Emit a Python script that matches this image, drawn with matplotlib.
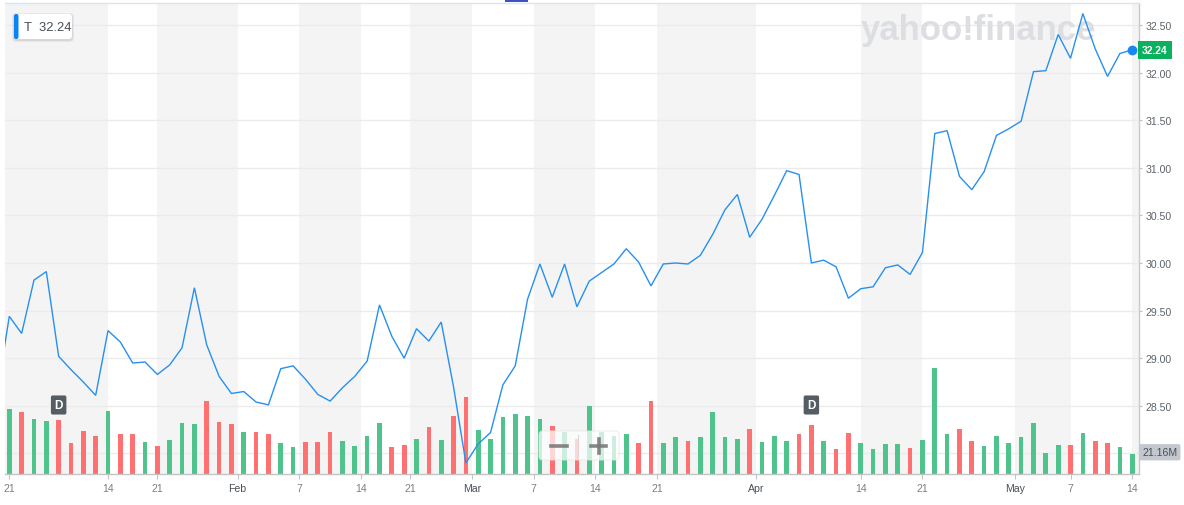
import numpy as np
import pandas as pd
import matplotlib
matplotlib.use('Agg')
import matplotlib.pyplot as plt
from matplotlib.patches import FancyBboxPatch, Rectangle
from matplotlib.lines import Line2D
from matplotlib.transforms import blended_transform_factory, IdentityTransform

plt.rcParams['font.family'] = ['Liberation Sans', 'DejaVu Sans']

# ---------------- data ----------------
ticker = 'T'
holidays = ['2021-01-01', '2021-01-18', '2021-02-15', '2021-04-02']
dates = pd.bdate_range('2020-12-31', '2021-05-14', freq='C', holidays=holidays)

close = [28.62,
         29.44, 29.26, 29.82, 29.91, 29.02, 28.88, 28.75, 28.61, 29.29, 29.17,
         28.95, 28.96, 28.83, 28.93, 29.11, 29.74, 29.14, 28.81, 28.63, 28.65,
         28.54, 28.51, 28.89, 28.92, 28.78, 28.62, 28.55, 28.69, 28.81, 28.97,
         29.56, 29.23, 29.00, 29.31, 29.18, 29.38, 28.70, 27.90, 28.10, 28.22,
         28.72, 28.92, 29.62, 29.99, 29.64, 29.99, 29.54, 29.81, 29.90, 29.99,
         30.15, 30.01, 29.76, 29.99, 30.00, 29.99, 30.08, 30.30, 30.56, 30.72,
         30.27, 30.46, 30.71, 30.97, 30.93, 30.00, 30.03, 29.96, 29.63, 29.73,
         29.75, 29.95, 29.98, 29.88, 30.11, 31.36, 31.39, 30.91, 30.77, 30.96,
         31.34, 31.41, 31.49, 32.01, 32.02, 32.40, 32.15, 32.62, 32.25, 31.96,
         32.20, 32.24]

volume_m = [67.4, 64.3, 57.0, 54.9, 55.9, 32.0, 44.5, 39.3, 65.3, 41.4,
            41.4, 33.0, 28.8, 35.1, 52.8, 51.8, 75.8, 53.9, 51.8, 43.4,
            43.4, 41.4, 32.0, 27.8, 33.0, 33.0, 43.4, 34.1, 28.8, 39.3,
            52.8, 27.8, 29.9, 36.1, 48.6, 35.1, 60.1, 79.9, 45.5, 36.1,
            59.1, 62.2, 60.1, 57.0, 49.7, 44.1, 36.5, 71.2, 43.8, 39.3,
            41.4, 32.0, 75.8, 32.0, 38.2, 34.1, 38.2, 64.3, 38.2, 36.1,
            46.6, 33.0, 39.3, 34.1, 41.4, 50.7, 34.1, 25.7, 42.4, 32.0,
            26.4, 30.9, 30.9, 27.6, 35.1, 110.5, 41.4, 46.6, 34.1, 28.8,
            39.3, 32.0, 38.2, 52.8, 21.5, 29.9, 29.9, 42.4, 34.1, 32.0,
            27.8, 21.16]

dividend_dates = ['2021-01-08', '2021-04-08']

tick_pos = [0, 8, 12, 18.5, 23.5, 28.5, 32.5, 37.5, 42.5, 47.5, 52.5,
            60.5, 69, 74, 81.5, 86, 91]
tick_labels = ['21', '14', '21', 'Feb', '7', '14', '21', 'Mar', '7', '14', '21',
               'Apr', '14', '21', 'May', '7', '14']
price_grid = [28.0, 28.5, 29.0, 29.5, 30.0, 30.5, 31.0, 31.5, 32.0, 32.5]
price_labels = [28.5, 29.0, 29.5, 30.0, 30.5, 31.0, 31.5, 32.0, 32.5]

# ---------------- derived ----------------
x_price = np.arange(len(close)) - 1          # Dec 31 at -1, Jan 4 at 0
x_vol = np.arange(len(volume_m))
close_arr = np.array(close)
up = np.diff(close_arr) >= 0
bar_colors = ['#4ec48c' if u else '#ff7070' for u in up]
date_index = {d.strftime('%Y-%m-%d'): i - 1 for i, d in enumerate(dates)}
div_idx = [date_index[d] for d in dividend_dates]

# ---------------- figure ----------------
W, H = 1184, 506
fig = plt.figure(figsize=(W / 100, H / 100), dpi=100, facecolor='white')


def fx(px):
    return px / W


def fy(py):
    return 1 - py / H


rect = [fx(5), fy(475), fx(1139) - fx(5), fy(4) - fy(475)]
ax_vol = fig.add_axes(rect)
ax_price = fig.add_axes(rect)
ax_vol.set_zorder(1)
ax_price.set_zorder(2)
ax_price.patch.set_visible(False)

xlim = (-0.348, 91.55)
ax_vol.set_xlim(*xlim)
ax_price.set_xlim(*xlim)
ax_price.set_ylim(27.784, 32.731)
ax_vol.set_ylim(0, 491)

# background bands
edges = [xlim[0]] + tick_pos[1:] + [xlim[1]]
for k in range(len(edges) - 1):
    if k % 2 == 0:
        ax_vol.axvspan(edges[k], edges[k + 1], color='#f4f4f4', lw=0, zorder=0)

# gridlines (price levels) drawn under bars
tg = blended_transform_factory(ax_vol.transAxes, ax_price.transData)
for g in price_grid:
    ax_vol.plot([0, 1], [g, g], transform=tg, color='#ebebeb', lw=1, zorder=1)

# watermark
ax_vol.text(861, H - 40, 'yahoo!finance', transform=IdentityTransform(),
            fontsize=25, fontweight='bold', color='#dcdee2', ha='left',
            va='baseline', zorder=1.5)

# volume bars
ax_vol.bar(x_vol, volume_m, width=0.38, color=bar_colors, lw=0, zorder=2)
for s in ax_vol.spines.values():
    s.set_visible(False)
ax_vol.set_xticks([])
ax_vol.set_yticks([])

# price line
ax_price.plot(x_price, close_arr, color='#2790ef', lw=1.0, zorder=3,
              solid_joinstyle='miter')
ax_price.plot([x_price[-1]], [close_arr[-1]], 'o', color='#1a86f0', ms=6,
              zorder=4, clip_on=False)

# axes styling
ax_price.spines['left'].set_visible(False)
ax_price.spines['top'].set_color('#dfe3ea')
ax_price.spines['right'].set_color('#c9c9c9')
ax_price.spines['bottom'].set_color('#c4c4c4')
for s in ax_price.spines.values():
    s.set_linewidth(1)

ax_price.yaxis.tick_right()
ax_price.set_yticks(price_labels)
ax_price.set_yticklabels([f'{v:.2f}' for v in price_labels])
ax_price.tick_params(axis='y', length=2.5, width=0.8, color='#c0c0c0',
                     labelcolor='#5b636a', labelsize=7.6, pad=2)
ax_price.set_xticks(tick_pos)
ax_price.set_xticklabels(tick_labels)
ax_price.tick_params(axis='x', length=3.8, width=0.8, color='#c4c4c4',
                     labelcolor='#7a7f85', labelsize=7.6, pad=2.5)
for lab in ax_price.get_xticklabels():
    if lab.get_text().isalpha():
        lab.set_color('#4a5057')

# dividend markers
td = blended_transform_factory(ax_price.transData, ax_price.transAxes)
for d in div_idx:
    ax_price.text(d, 0.1465, 'D', transform=td, ha='center', va='center',
                  color='white', fontsize=8.5, fontweight='bold', zorder=5,
                  bbox=dict(boxstyle='round,pad=0.3,rounding_size=0.15',
                            fc='#555c64', ec='none'))

# last price tag
tp = blended_transform_factory(ax_price.transAxes, ax_price.transData)
ax_price.text(1.0028, close_arr[-1], f'{close_arr[-1]:.2f}', transform=tp,
              ha='left', va='center', color='white', fontsize=7.4,
              fontweight='bold', zorder=6, clip_on=False,
              bbox=dict(boxstyle='square,pad=0.38', fc='#0bb15f', ec='none'))

# last volume tag
tv = blended_transform_factory(ax_vol.transAxes, ax_vol.transData)
ax_price.text(1.0028, volume_m[-1] + 1.5, f'{volume_m[-1]:.2f}M',
              transform=blended_transform_factory(ax_price.transAxes, ax_vol.transData),
              ha='left', va='center', color='#4a5057', fontsize=7.6,
              zorder=6, clip_on=False,
              bbox=dict(boxstyle='round,pad=0.3,rounding_size=0.2',
                        fc='#c3c7ce', ec='none'))

# ---------------- overlays (pixel coords) ----------------
I = IdentityTransform()

# ticker legend box with shadow
for off, a in [(2.0, 0.05), (1.0, 0.07)]:
    fig.patches.append(FancyBboxPatch((14 - off, H - 40 - off - 1), 58 + 2 * off, 25 + 2 * off,
                                      boxstyle='round,pad=0,rounding_size=4',
                                      fc='black', ec='none', alpha=a,
                                      transform=I, zorder=8))
fig.patches.append(FancyBboxPatch((14, H - 40), 58, 25,
                                  boxstyle='round,pad=0,rounding_size=3',
                                  fc='white', ec='none', transform=I, zorder=9))
fig.patches.append(FancyBboxPatch((14, H - 40), 4.5, 25,
                                  boxstyle='round,pad=0,rounding_size=2',
                                  fc='#0a84f5', ec='none', transform=I, zorder=10))
fig.text(24, H - 28, f'{ticker}  {close_arr[-1]:.2f}', transform=I, ha='left',
         va='center', fontsize=9.4, color='#464e56', zorder=11)

# zoom control overlay
fig.patches.append(FancyBboxPatch((539, H - 461), 80, 29,
                                  boxstyle='round,pad=0,rounding_size=4',
                                  fc='white', ec='#e6e6e6', lw=0.8, alpha=0.72,
                                  transform=I, zorder=12))
fig.lines.append(Line2D([578, 578], [H - 457, H - 436], color='#d9d9d9', lw=0.8,
                        transform=I, zorder=13))
fig.lines.append(Line2D([551, 567], [H - 446.7, H - 446.7], color='#7a7a7a', lw=2.6,
                        transform=I, zorder=13, alpha=0.9))
fig.lines.append(Line2D([591, 606], [H - 446.7, H - 446.7], color='#7a7a7a', lw=2.6,
                        transform=I, zorder=13, alpha=0.9))
fig.lines.append(Line2D([598.5, 598.5], [H - 454, H - 439.5], color='#7a7a7a', lw=2.6,
                        transform=I, zorder=13, alpha=0.9))

# small blue tab at top
fig.patches.append(Rectangle((505, H - 3), 23, 3, fc='#3d52c6', ec='none',
                             transform=I, zorder=14))

fig.savefig('out.png', dpi=100, facecolor='white')
